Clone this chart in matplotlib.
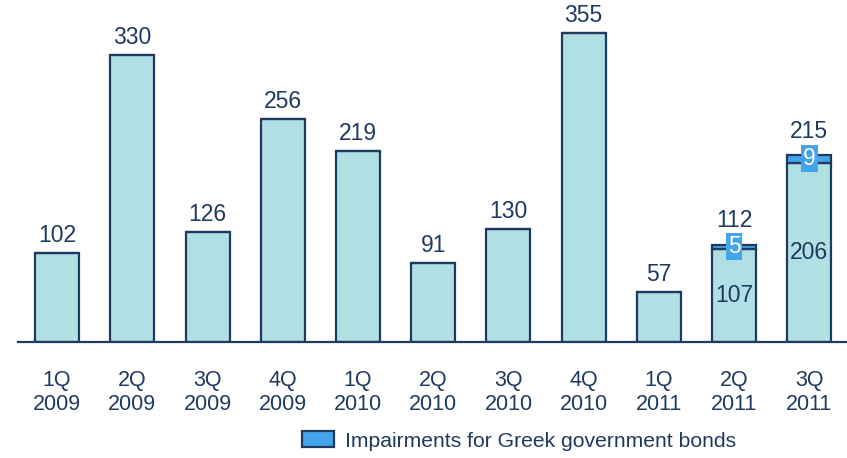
import numpy as np
import matplotlib.pyplot as plt
from matplotlib.patches import Patch

plt.rcParams['font.family'] = ['Liberation Sans', 'DejaVu Sans']

# data
quarters = ["1Q\n2009", "2Q\n2009", "3Q\n2009", "4Q\n2009", "1Q\n2010", "2Q\n2010",
            "3Q\n2010", "4Q\n2010", "1Q\n2011", "2Q\n2011", "3Q\n2011"]
base = [102, 330, 126, 256, 219, 91, 130, 355, 57, 107, 206]
greek = [0, 0, 0, 0, 0, 0, 0, 0, 0, 5, 9]
totals = [b + g for b, g in zip(base, greek)]

navy = "#1f3a60"
light = "#b0dfe4"
blue = "#45a3ea"

fig = plt.figure(figsize=(8.47, 4.58), dpi=100)
ax = fig.add_axes([18 / 847, 116 / 458, 829 / 847, 342 / 458])

x = np.arange(len(quarters))
w = 0.585
ax.bar(x, base, w, color=light, edgecolor=navy, linewidth=1.6, zorder=2)
ax.bar(x, greek, w, bottom=base, color=blue, edgecolor=navy, linewidth=1.6, zorder=2)

# total labels (a bit higher where the small blue box sits on top)
for xi, t, g in zip(x, totals, greek):
    off = 14 if g > 0 else 7
    ax.text(xi, t + off, str(t), ha='center', va='bottom', fontsize=16.5, color=navy)

# inside labels for stacked bars
for xi, b, g in zip(x, base, greek):
    if g > 0:
        ax.text(xi, b / 2, str(b), ha='center', va='center', fontsize=16.5, color=navy)
        ax.text(xi, b + g / 2, str(g), ha='center', va='center', fontsize=16.5, color='white',
                bbox=dict(boxstyle='square,pad=0.08', facecolor=blue, edgecolor='none'))

ax.set_xlim(-0.52, 10.5)
ax.set_ylim(0, 393)
ax.set_xticks(x)
ax.set_xticklabels(quarters, fontsize=15.5, color=navy, linespacing=1.2)
ax.tick_params(axis='x', length=0, pad=20)
ax.set_yticks([])
for s in ['top', 'right', 'left']:
    ax.spines[s].set_visible(False)
ax.spines['bottom'].set_color(navy)
ax.spines['bottom'].set_linewidth(1.6)

handle = [Patch(facecolor=blue, edgecolor=navy, linewidth=1.6)]
fig.legend(handle, ["Impairments for Greek government bonds"], loc='center',
           bbox_to_anchor=(519 / 847, 1 - 441 / 458), frameon=False, fontsize=15.2,
           labelcolor=navy, handlelength=1.5, handleheight=0.8, handletextpad=0.5)

fig.savefig("out.png", dpi=100)
